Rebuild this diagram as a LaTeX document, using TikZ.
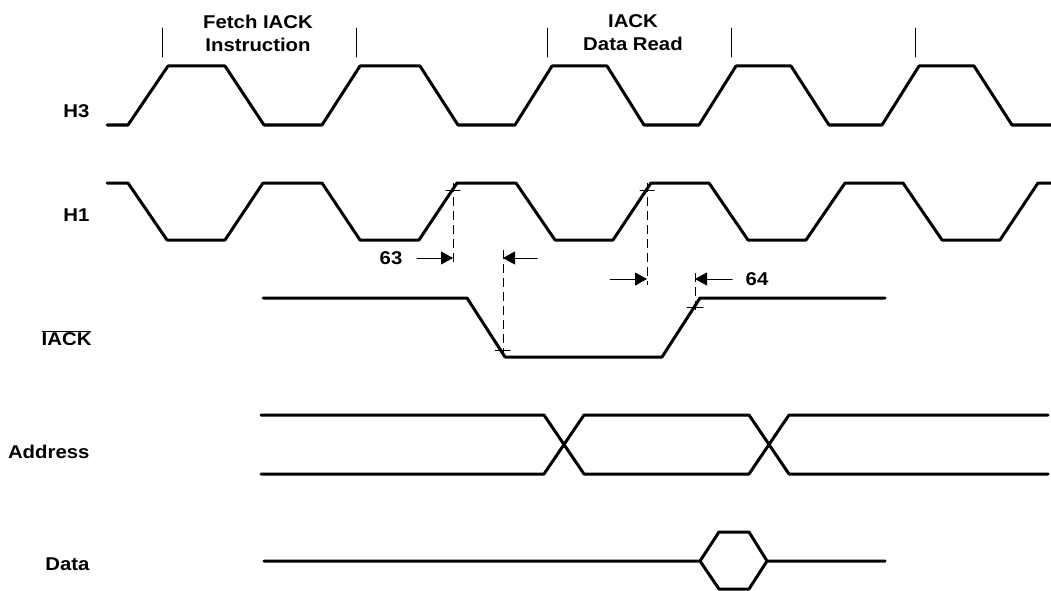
\documentclass[tikz,border=0pt]{standalone}
\usepackage{fontspec}
\setmainfont{Liberation Sans}[FakeStretch=1.1]
\usetikzlibrary{arrows.meta}
\begin{document}
\begin{tikzpicture}[x=1pt, y=-1pt, line join=round, line cap=round,
	>={Triangle[length=12pt,width=13pt]},
	font=\bfseries\fontsize{18.5}{23}\selectfont,
	wave/.style={line width=3pt},
	guide/.style={line width=0.9pt, dash pattern=on 9pt off 5pt, line cap=butt},
	hair/.style={line width=1pt}]
	\useasboundingbox (0,0) rectangle (1051,591);
	% Nhãn tín hiệu
	\node[anchor=east] (lblH3) at (93,111) {H3};
	\node[anchor=east] (lblH1) at (93,215) {H1};
	\node[anchor=east] (lblIACK) at (95,338) {$\overline{\hbox{IACK}}$};
	\node[anchor=east] (lblAddr) at (93,452) {Address};
	\node[anchor=east] (lblData) at (93,564) {Data};
	\node[align=center] (fetch) at (258,33) {Fetch IACK\\Instruction};
	\node[align=center] (dread) at (633,33) {IACK\\Data Read};
	% Vạch chia chu kỳ
	\foreach \x in {162,356,547,731,915}
	\draw[hair] (\x,28) -- (\x,57);
	% Xung H3
	\def\hi{66}
	\def\lo{125}
	\draw[wave] (107,\lo) -- (128,\lo) -- (168,\hi) -- (225,\hi) -- (264,\lo) -- (322,\lo)
	-- (360,\hi) -- (420,\hi) -- (458,\lo) -- (515,\lo) -- (552,\hi) -- (607,\hi)
	-- (644,\lo) -- (699,\lo) -- (736,\hi) -- (791,\hi) -- (829,\lo) -- (882,\lo)
	-- (919,\hi) -- (974,\hi) -- (1012,\lo) -- (1053,\lo);
	% Xung H1
	\def\hi{183}
	\def\lo{240}
	\draw[wave] (107,\hi) -- (128,\hi) -- (167,\lo) -- (225,\lo) -- (263,\hi) -- (322,\hi)
	-- (360,\lo) -- (419,\lo) -- (457,\hi) -- (516,\hi) -- (555,\lo) -- (613,\lo)
	-- (651,\hi) -- (709,\hi) -- (748,\lo) -- (806,\lo) -- (845,\hi) -- (903,\hi)
	-- (942,\lo) -- (1000,\lo) -- (1038,\hi) -- (1053,\hi);
	% IACK
	\draw[wave] (263,298) -- (467,298) -- (505,357) -- (662,357) -- (700,298) -- (885,298);
	% Address
	\draw[wave] (261,415) -- (544,415) -- (584,474) -- (749,474) -- (789,415) -- (1048,415)
	(261,474) -- (544,474) -- (584,415) -- (749,415) -- (789,474) -- (1048,474);
	% Data
	\draw[wave] (264,561) -- (700,561) -- (719,532) -- (749,532) -- (767,561) -- (885,561)
	(700,561) -- (719,589) -- (749,589) -- (767,561);
	% Đường gióng và thời gian 63, 64
	\draw[guide] (453,183) -- (453,265) (503,250) -- (503,357)
	(647,183) -- (647,285) (695,273) -- (695,310);
	\draw[hair] (446,190) -- (460,190) (495,350) -- (510,350)
	(640,190) -- (654,190) (687,307) -- (703,307);
	\draw[hair,->] (417,258) -- (453,258);
	\draw[hair,->] (537,258) -- (503,258);
	\draw[hair,->] (610,279) -- (647,279);
	\draw[hair,->] (732,279) -- (695,279);
	\node (t63) at (391,258) {63};
	\node (t64) at (757,279) {64};
\end{tikzpicture}
\end{document}
